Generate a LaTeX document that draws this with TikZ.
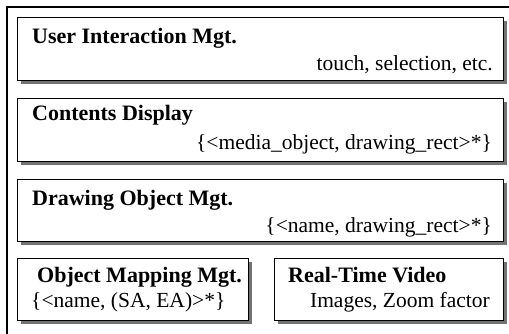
\documentclass[tikz,border=0pt]{standalone}
\usepackage{fontspec}
\setmainfont{Liberation Serif}
\usetikzlibrary{shadows}
\begin{document}
\begin{tikzpicture}[x=1pt, y=-1pt,
		modbox/.style = {draw, line width=1.3pt, fill=white, inner sep=0pt, anchor=north west,
			drop shadow={shadow xshift=3pt, shadow yshift=-3pt, fill=black!55, opacity=1}},
		modtitle/.style = {font=\fontsize{22}{24}\selectfont\bfseries, inner sep=0pt, anchor=base west},
		moddata/.style = {font=\fontsize{21.5}{23}\selectfont, inner sep=0pt, anchor=base east}
	]
	\clip (0,0) rectangle (509,334);
	\path[use as bounding box] (0,0) rectangle (509,334);
	\draw[line width=1.2pt] (7,340) -- (7,7) -- (515,7);
	\node[modbox, minimum width=486pt, minimum height=63pt] (uim) at (17,17) {};
	\node[modtitle] (uimtitle) at (32,44) {User Interaction Mgt.};
	\node[moddata] (uimdata) at (493,71) {touch, selection, etc.};
	\node[modbox, minimum width=486pt, minimum height=63pt] (cd) at (17,98) {};
	\node[modtitle] (cdtitle) at (32,121) {Contents Display};
	\node[moddata] (cddata) at (492,150) {\{<media\_object, drawing\_rect>*\}};
	\node[modbox, minimum width=486pt, minimum height=62pt] (dom) at (17,179) {};
	\node[modtitle] (domtitle) at (32,205) {Drawing Object Mgt.};
	\node[moddata] (domdata) at (492,232) {\{<name, drawing\_rect>*\}};
	\node[modbox, minimum width=231pt, minimum height=62pt] (omm) at (17,258) {};
	\node[modtitle] (ommtitle) at (37,282) {Object Mapping Mgt.};
	\node[moddata, anchor=base west] (ommdata) at (31,307) {\{<name, (SA, EA)>*\}};
	\node[modbox, minimum width=229pt, minimum height=62pt] (rtv) at (274,258) {};
	\node[modtitle] (rtvtitle) at (288,282) {Real-Time Video};
	\node[moddata] (rtvdata) at (490,307) {Images, Zoom factor};
\end{tikzpicture}
\end{document}
